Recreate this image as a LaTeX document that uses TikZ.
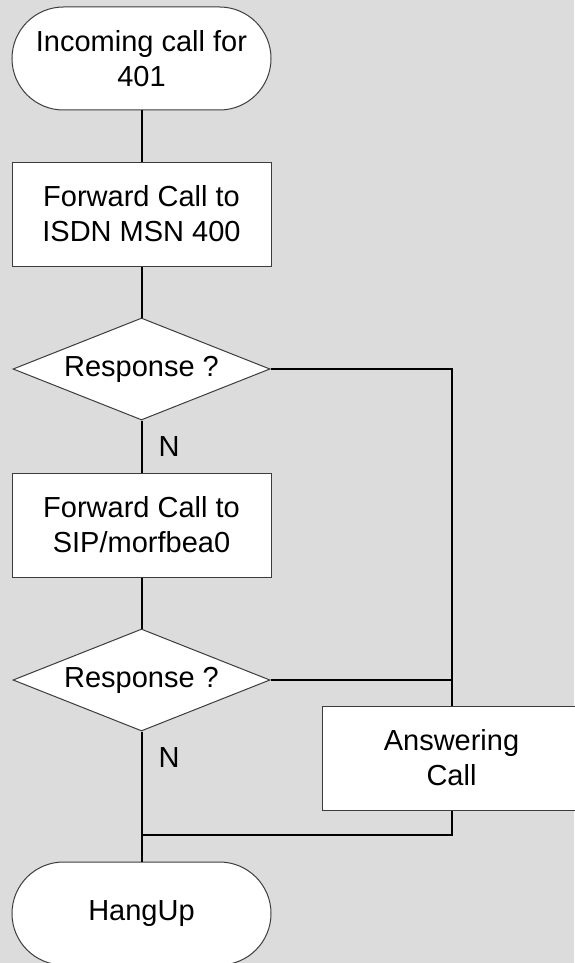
\documentclass[tikz,border=0pt]{standalone}
\usepackage{fontspec}
\setmainfont{Liberation Sans}
\usetikzlibrary{shapes.geometric}
\definecolor{bggray}{RGB}{220,220,220}
\definecolor{edgegray}{RGB}{60,60,60}
\tikzstyle{terminal} = [draw=edgegray, fill=white, line width=1pt, rounded corners=51.5pt, minimum width=259pt, minimum height=103pt, align=center, inner sep=0pt]
\tikzstyle{process} = [draw=edgegray, fill=white, line width=1pt, minimum width=259pt, minimum height=104pt, align=center, inner sep=0pt]
\tikzstyle{decision} = [diamond, aspect=2.5, draw=edgegray, fill=white, line width=1pt, minimum width=257pt, minimum height=102pt, inner sep=0pt]
\tikzstyle{flow} = [line width=2pt, black]
\tikzstyle{answer} = [anchor=west, inner sep=0pt, xshift=16pt]

\begin{document}
\begin{tikzpicture}[x=1pt, y=-1pt, font=\fontsize{29}{35}\selectfont]
				\fill[bggray] (0,0) rectangle (574,963);
				\useasboundingbox (0,0) rectangle (574,963);
				\node[terminal] (start) at (141.5,58.5) {Incoming call for\\401};
				\node[process] (fwdisdn) at (141.5,214) {Forward Call to\\ISDN MSN 400};
				\node[decision] (resp1) at (141.5,369) {Response ?};
				\node[process] (fwdsip) at (141.5,525) {Forward Call to\\SIP/morfbea0};
				\node[decision] (resp2) at (141.5,680) {Response ?};
				\node[process] (answering) at (451.5,758) {Answering\\Call};
				\node[terminal] (hangup) at (141.5,913.5) {HangUp};
				\coordinate (join) at (141.5,835);
				\draw[flow] (start) -- (fwdisdn);
				\draw[flow] (fwdisdn) -- (resp1);
				\draw[flow] (resp1) -- node[answer] {N} (fwdsip);
				\draw[flow] (fwdsip) -- (resp2);
				\draw[flow] (resp2) -- node[answer, pos=0.25] {N} (join);
				\draw[flow] (join) -- (hangup);
				\draw[flow] (resp1.east) -| (answering.north);
				\draw[flow] (resp2.east) -- (resp2.east -| answering.north);
				\draw[flow] (answering.south) |- (join);
			\end{tikzpicture}
\end{document}
